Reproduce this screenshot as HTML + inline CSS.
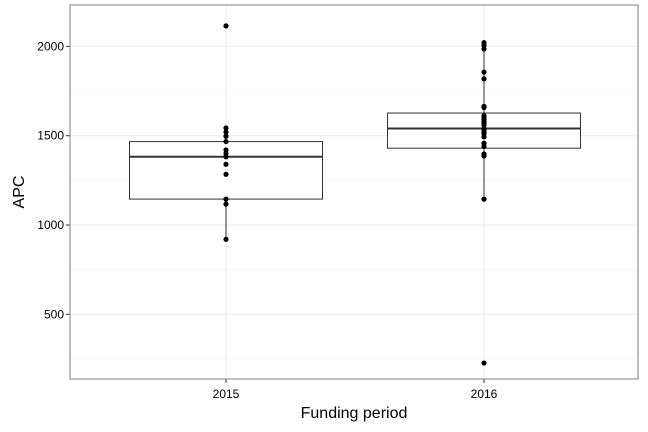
<!DOCTYPE html>
<html><head><meta charset="utf-8"><style>
body{margin:0;background:#fff;}
svg{display:block;font-family:"Liberation Sans",sans-serif;}
</style></head><body>
<svg id="chart" width="648" height="432"></svg>
<script>
const categories=["2015","2016"];
const q1=[1145,1430];
const medians=[1382,1540];
const q3=[1467,1627];
const whiskerLow=[920,1145];
const whiskerHigh=[1543,2021];
const points2015=[2115,1543,1520,1497,1467,1420,1400,1382,1340,1284,1145,1117,920];
const points2016=[2021,2005,1986,1856,1819,1664,1658,1612,1600,1590,1580,1570,1560,1540,1530,1520,1510,1493,1458,1440,1398,1387,1145,227];
const yTicks=[500,1000,1500,2000];
const yMinor=[250,750,1250,1750];
const NS="http://www.w3.org/2000/svg";
const svg=document.getElementById("chart");
const L=70,R=638,T=5,B=379;
function y(v){return 225-(v-1000)*0.1786;}
function x(i){return 226+i*258;}
function mk(tag,attrs,parent){const e=document.createElementNS(NS,tag);for(const k in attrs)e.setAttribute(k,attrs[k]);(parent||svg).appendChild(e);return e;}
const grid=mk("g",{});


yMinor.forEach(v=>mk("line",{x1:L,x2:R,y1:y(v),y2:y(v),stroke:"#f2f2f2","stroke-width":0.6},grid));
yTicks.forEach(v=>mk("line",{x1:L,x2:R,y1:y(v),y2:y(v),stroke:"#ebebeb","stroke-width":1},grid));
categories.forEach((c,i)=>mk("line",{x1:x(i),x2:x(i),y1:T,y2:B,stroke:"#ebebeb","stroke-width":1},grid));
const allPts=[points2015,points2016];
categories.forEach((c,i)=>{
  const g=mk("g",{});
  
  
  const cx=x(i),hw=96.5;
  mk("line",{x1:cx,x2:cx,y1:y(whiskerHigh[i]),y2:y(q3[i]),stroke:"#333","stroke-width":1},g);
  mk("line",{x1:cx,x2:cx,y1:y(q1[i]),y2:y(whiskerLow[i]),stroke:"#333","stroke-width":1},g);
  mk("rect",{x:cx-hw,y:y(q3[i]),width:hw*2,height:y(q1[i])-y(q3[i]),fill:"#fff",stroke:"#333","stroke-width":1},g);
  mk("line",{x1:cx-hw,x2:cx+hw,y1:y(medians[i]),y2:y(medians[i]),stroke:"#333","stroke-width":2},g);
  allPts[i].forEach(v=>{
    const p=mk("circle",{cx:cx,cy:y(v),r:2.6,fill:"#000"},g);
    
    
  });
  const t=mk("text",{x:cx,y:398,"text-anchor":"middle","font-size":12,fill:"#000"});
  t.textContent=c;
  
  
  mk("line",{x1:cx,x2:cx,y1:B,y2:B+4,stroke:"#333"});
});
yTicks.forEach(v=>{
  const t=mk("text",{x:64,y:y(v)+4,"text-anchor":"end","font-size":12,fill:"#000"});
  t.textContent=v;
  
  
  mk("line",{x1:L-4,x2:L,y1:y(v),y2:y(v),stroke:"#333"});
});
const frame=mk("rect",{x:L,y:T,width:R-L,height:B-T,fill:"none",stroke:"#7f7f7f","stroke-width":1});


const xt=mk("text",{x:354,y:418,"text-anchor":"middle","font-size":16,fill:"#000"});
xt.textContent="Funding period";


const yt=mk("text",{x:24,y:192,"text-anchor":"middle","font-size":16,fill:"#000",transform:"rotate(-90 24 192)"});
yt.textContent="APC";


</script>
</body></html>
